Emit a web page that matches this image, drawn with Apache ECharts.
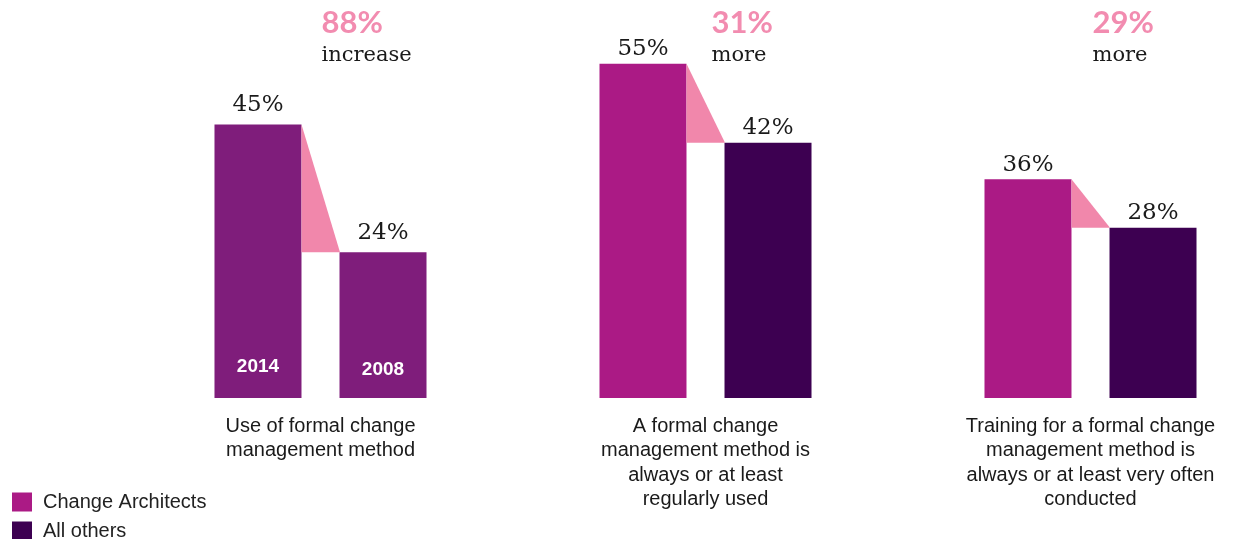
<!DOCTYPE html>
<html>
<head>
<meta charset="utf-8">
<script src="https://cdn.jsdelivr.net/npm/echarts@6/dist/echarts.min.js"></script>
<style>
  html, body { margin: 0; padding: 0; background: #ffffff; }
  #chart { width: 1233px; height: 539px; }
</style>
</head>
<body>
<div id="chart"></div>
<script>
// ---- data ----
const categories = [
  'Use of formal change\nmanagement method',
  'A formal change\nmanagement method is\nalways or at least\nregularly used',
  'Training for a formal change\nmanagement method is\nalways or at least very often\nconducted'
];
const changeArchitects = [45, 55, 36];
const allOthers = [24, 42, 28];
const differencePct = ['88%', '31%', '29%'];
const differenceWord = ['increase', 'more', 'more'];
const yearLabels = ['2014', '2008'];   // shown inside the first group's bars
const seriesNames = ['Change Architects', 'All others'];

// ---- style / layout constants ----
const COL_CA = '#ab1a85';
const COL_OTHERS = '#3d0051';
const COL_YEAR = '#7f1d7b';
const COL_PINK = '#f187ab';
const COL_PINK_TEXT = '#f28cb0';
const BAR_W = 87;
const GAP = 38;
const annotOffsetX = [1, 6, 2];
const serif = '"DejaVu Serif", serif';
const sans = '"Liberation Sans", Arial, sans-serif';

const chart = echarts.init(document.getElementById('chart'));

const firstGroupStyle = { itemStyle: { color: COL_YEAR }, label: { distance: 8 } };
const caData = changeArchitects.map((v, i) => i === 0 ? Object.assign({ value: v }, firstGroupStyle) : v);
const otData = allOthers.map((v, i) => i === 0 ? Object.assign({ value: v }, firstGroupStyle) : v);

const connectorData = categories.map((c, i) => [i, changeArchitects[i], allOthers[i]]);

const valueLabel = {
  show: true,
  position: 'top',
  distance: 3,
  formatter: '{c}%',
  fontFamily: serif,
  fontSize: 23,
  color: '#1a1a1a'
};

chart.setOption({
  animation: false,
  backgroundColor: '#ffffff',
  grid: { left: 128, width: 1155, top: 3, bottom: 141, containLabel: false, outerBoundsMode: 'none' },
  legend: {
    data: seriesNames,
    orient: 'vertical',
    left: 12,
    top: 492,
    height: 60,
    padding: 0,
    icon: 'rect',
    itemWidth: 20,
    itemHeight: 19,
    itemGap: 9,
    textStyle: { fontFamily: sans, fontSize: 20, lineHeight: 19, color: '#222', padding: [0, 0, 0, 6] }
  },
  xAxis: {
    type: 'category',
    data: categories,
    axisLine: { show: false },
    axisTick: { show: false },
    axisLabel: {
      interval: 0,
      margin: 16,
      fontFamily: sans,
      fontSize: 20,
      lineHeight: 24.5,
      color: '#1a1a1a'
    }
  },
  yAxis: {
    type: 'value',
    min: 0,
    max: 65,
    show: false,
    splitLine: { show: false }
  },
  series: [
    {
      name: seriesNames[0],
      type: 'bar',
      data: caData,
      barWidth: BAR_W,
      barGap: (GAP / BAR_W * 100).toFixed(1) + '%',
      itemStyle: { color: COL_CA },
      label: valueLabel
    },
    {
      name: seriesNames[1],
      type: 'bar',
      data: otData,
      barWidth: BAR_W,
      itemStyle: { color: COL_OTHERS },
      label: valueLabel
    },
    {
      name: 'connector',
      type: 'custom',
      data: connectorData,
      z: 5,
      renderItem: function (params, api) {
        const idx = api.value(0);
        const base = api.coord([idx, 0]);
        const cx = base[0];
        const t1 = api.coord([idx, api.value(1)])[1];
        const t2 = api.coord([idx, api.value(2)])[1];
        const xL = cx - GAP / 2;
        const xR = cx + GAP / 2;
        const children = [
          {
            type: 'polygon',
            shape: { points: [[xL, t1], [xR + 0.5, t2], [xL, t2]] },
            style: { fill: COL_PINK }
          },
          {
            type: 'text',
            style: {
              text: differencePct[idx],
              x: cx + annotOffsetX[idx],
              y: 23,
              align: 'left',
              verticalAlign: 'middle',
              fill: COL_PINK_TEXT,
              font: 'bold 31px Lato, "Open Sans", sans-serif'
            }
          },
          {
            type: 'text',
            style: {
              text: differenceWord[idx],
              x: cx + annotOffsetX[idx],
              y: 56,
              align: 'left',
              verticalAlign: 'middle',
              fill: '#1a1a1a',
              font: '21px ' + serif
            }
          }
        ];
        if (idx === 0) {
          const bc1 = cx - GAP / 2 - BAR_W / 2;
          const bc2 = cx + GAP / 2 + BAR_W / 2;
          children.push({
            type: 'text',
            style: { text: yearLabels[0], x: bc1, y: base[1] - 31, align: 'center', verticalAlign: 'middle',
                     fill: '#ffffff', font: 'bold 19px ' + sans }
          });
          children.push({
            type: 'text',
            style: { text: yearLabels[1], x: bc2, y: base[1] - 28, align: 'center', verticalAlign: 'middle',
                     fill: '#ffffff', font: 'bold 19px ' + sans }
          });
        }
        return { type: 'group', children: children };
      }
    }
  ]
});
</script>
</body>
</html>
